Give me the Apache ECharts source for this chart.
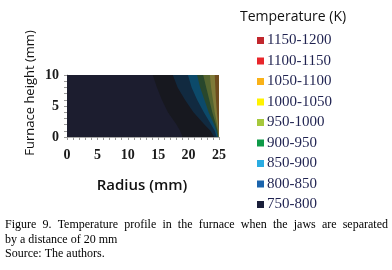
<!DOCTYPE html>
<html><head><meta charset="utf-8">
<script src="https://cdn.jsdelivr.net/npm/echarts@6/dist/echarts.min.js"></script>
<style>html,body{margin:0;padding:0;background:#fff}#c{width:392px;height:270px}</style>
</head><body><div id="c"></div>
<script>
// Heights (mm) at which band boundaries were read
const heights = [0, 1, 2, 4, 6, 8, 10];
// Left boundary (radius, mm) of each contour band at those heights
const edgeBase   = [0, 0, 0, 0, 0, 0, 0];
const edgeDark   = [19.0, 18.6, 18.0, 16.6, 15.6, 14.8, 14.1];
const edgeTeal   = [24.2, 23.6, 22.6, 20.8, 19.4, 18.2, 17.4];
const edgeBlue   = [24.6, 24.3, 23.7, 22.5, 21.4, 20.5, 19.9];
const edgeGreen  = [24.8, 24.6, 24.2, 23.3, 22.6, 21.9, 21.4];
const edgeOlive  = [24.9, 24.75, 24.5, 23.9, 23.4, 22.9, 22.4];
const edgeYellow = [24.95, 24.85, 24.7, 24.3, 24.0, 23.7, 23.5];
const edgeBrown  = [25.0, 24.92, 24.85, 24.65, 24.5, 24.4, 24.3];
const bandEdges = [edgeBase, edgeDark, edgeTeal, edgeBlue, edgeGreen, edgeOlive, edgeYellow, edgeBrown];
const bandFill = ['#1c1d2f', '#17181f', '#112a40', '#0c4a6a', '#28472c', '#55652f', '#7f7a38', '#6e4c1e'];

// Legend
const legendNames = ['1150-1200','1100-1150','1050-1100','1000-1050','950-1000','900-950','850-900','800-850','750-800'];
const legendColors = ['#c1272d','#e8262b','#f9b218','#fff200','#a6c83c','#0e9a48','#2aace2','#1b64ad','#1a1f3a'];

const xTicks = [0, 25, 5];
const yTicks = [0, 10, 5];

const captionLine1 = 'Figure 9. Temperature profile in the furnace when the jaws are separated';
const captionRest = 'by a distance of 20 mm\nSource: The authors.';

const chart = echarts.init(document.getElementById('c'), null, {renderer: 'canvas'});
const series = [{
  type: 'custom',
  silent: true,
  clip: true,
  data: bandEdges.map((e, i) => [i]),
  renderItem: function (params, api) {
    const e = bandEdges[params.dataIndex];
    const pts = heights.map((h, i) => api.coord([e[i], h]));
    pts.push(api.coord([25, 10]));
    pts.push(api.coord([25, 0]));
    return {type: 'polygon', shape: {points: pts}, style: {fill: bandFill[params.dataIndex]}};
  }
}];
legendNames.forEach((n, i) => series.push({type: 'scatter', name: n, data: [], itemStyle: {color: legendColors[i], opacity: 1}}));

// justified first caption line
const capFont = '12px "Liberation Serif"';
const ctx = document.createElement('canvas').getContext('2d');
ctx.font = capFont;
const words = captionLine1.split(' ');
const widths = words.map(w => ctx.measureText(w).width);
const total = widths.reduce((a, b) => a + b, 0);
const lineL = 5, lineR = 388;
const gap = (lineR - lineL - total) / (words.length - 1);
const capGraphics = [];
let cx = lineL;
words.forEach((w, i) => {
  capGraphics.push({type: 'text', x: cx, y: 219, style: {text: w, font: capFont, fill: '#000'}});
  cx += widths[i] + gap;
});
capGraphics.push({type: 'text', x: lineL, y: 233, style: {text: captionRest, font: capFont, fill: '#000', lineHeight: 14}});

const tickLabel = {fontFamily: 'Liberation Serif', fontWeight: 'bold', fontSize: 14, color: '#1a1a1a'};
chart.setOption({
  animation: false,
  grid: {left: 67, right: 173, top: 75, bottom: 133},
  xAxis: {
    type: 'value', min: xTicks[0], max: xTicks[1], interval: xTicks[2],
    axisLine: {show: true, lineStyle: {color: '#aaa', width: 1}},
    axisTick: {show: true, length: 3, lineStyle: {color: '#999'}},
    minorTick: {show: true, splitNumber: 5, length: 3, lineStyle: {color: '#999'}},
    splitLine: {show: false},
    axisLabel: Object.assign({margin: 11}, tickLabel)
  },
  yAxis: {
    type: 'value', min: yTicks[0], max: yTicks[1], interval: yTicks[2],
    axisLine: {show: true, lineStyle: {color: '#aaa', width: 1}},
    axisTick: {show: true, length: 3, lineStyle: {color: '#999'}},
    minorTick: {show: true, splitNumber: 5, length: 3, lineStyle: {color: '#999'}},
    splitLine: {show: false},
    axisLabel: Object.assign({margin: 8}, tickLabel)
  },
  legend: {
    orient: 'vertical', left: 257, top: 33, icon: 'rect', itemWidth: 7, itemHeight: 7,
    itemGap: 5.5, padding: 0,
    textStyle: {fontFamily: 'Liberation Serif', fontSize: 15, color: '#1f2250', lineHeight: 15, padding: [0, 0, 0, -2]},
    data: legendNames
  },
  graphic: [
    {type: 'text', left: 240, top: 10, style: {text: 'Temperature (K)', font: '14px "Open Sans"', fill: '#111'}},
    {type: 'text', x: 142, y: 186, style: {text: 'Radius (mm)', font: '600 15px "Open Sans"', fill: '#111', align: 'center', verticalAlign: 'middle'}},
    {type: 'text', x: 30, y: 93, rotation: Math.PI / 2, style: {text: 'Furnace height (mm)', font: '13px "Open Sans"', fill: '#111', align: 'center', verticalAlign: 'middle'}}
  ].concat(capGraphics),
  series: series
});
</script></body></html>
